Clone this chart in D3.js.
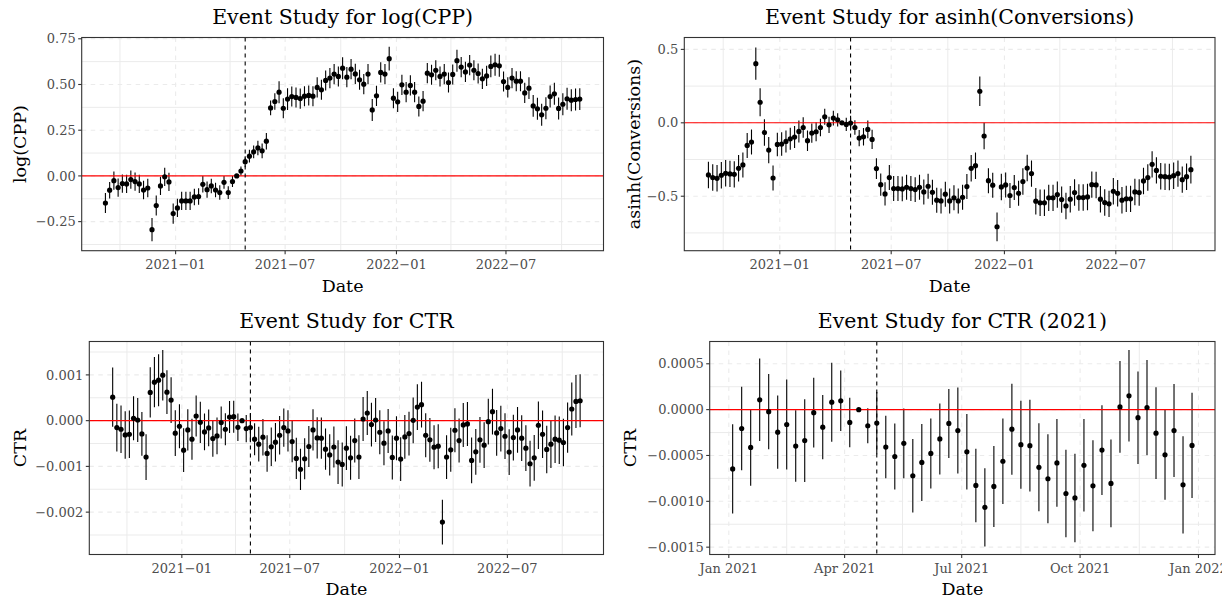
<!DOCTYPE html>
<html><head><meta charset="utf-8">
<script src="https://cdn.jsdelivr.net/npm/d3@7/dist/d3.min.js"></script>
<style>
body{margin:0;background:#fff}
svg{display:block}
text{font-family:"DejaVu Serif",serif}
</style>
</head><body>
<svg id="chart" width="1229" height="600"></svg>
<script>
// ---------------- DATA ----------------
const weeklyFirst = "2020-09-07", weeklyLast = "2022-10-31";
const weekly2021First = "2021-01-04", weekly2021Last = "2021-12-27";
const eventDate = "2021-04-26";

const cppEst = [-0.148,-0.078,-0.026,-0.064,-0.042,-0.044,-0.020,-0.031,-0.044,-0.077,
-0.066,-0.294,-0.162,-0.055,-0.005,-0.033,-0.206,-0.175,-0.137,-0.137,
-0.137,-0.115,-0.113,-0.046,-0.075,-0.055,-0.077,-0.091,-0.035,-0.091,
-0.031,0.000,0.027,0.078,0.108,0.131,0.153,0.137,0.190,0.372,
0.407,0.458,0.370,0.420,0.434,0.429,0.423,0.436,0.440,0.436,
0.484,0.471,0.522,0.535,0.557,0.544,0.589,0.540,0.584,0.558,
0.526,0.502,0.557,0.361,0.438,0.566,0.557,0.641,0.425,0.405,
0.498,0.458,0.495,0.458,0.380,0.409,0.562,0.553,0.578,0.544,
0.557,0.511,0.555,0.630,0.595,0.569,0.606,0.578,0.560,0.531,
0.547,0.599,0.608,0.602,0.516,0.484,0.535,0.518,0.518,0.454,
0.480,0.383,0.367,0.334,0.370,0.434,0.449,0.369,0.392,0.422,
0.414,0.418,0.420];
const cppHalf = [0.055,0.045,0.050,0.050,0.050,0.050,0.050,0.050,0.050,0.050,
0.050,0.064,0.055,0.050,0.050,0.050,0.055,0.050,0.050,0.050,
0.050,0.045,0.045,0.045,0.045,0.040,0.040,0.040,0.035,0.035,
0.030,0.000,0.025,0.030,0.035,0.035,0.040,0.040,0.045,0.040,
0.045,0.060,0.055,0.060,0.055,0.055,0.055,0.055,0.055,0.055,
0.055,0.055,0.055,0.055,0.055,0.055,0.060,0.055,0.055,0.055,
0.055,0.055,0.055,0.060,0.055,0.055,0.055,0.065,0.055,0.055,
0.055,0.055,0.055,0.055,0.055,0.055,0.055,0.055,0.055,0.055,
0.055,0.055,0.055,0.060,0.055,0.055,0.055,0.055,0.055,0.055,
0.055,0.060,0.060,0.060,0.055,0.055,0.055,0.055,0.055,0.055,
0.060,0.060,0.060,0.060,0.060,0.060,0.060,0.060,0.060,0.060,
0.060,0.060,0.060];

const convEst = [-0.355,-0.373,-0.378,-0.357,-0.344,-0.348,-0.351,-0.310,-0.287,-0.154,
-0.131,0.403,0.140,-0.066,-0.186,-0.376,-0.147,-0.145,-0.127,-0.109,
-0.097,-0.059,-0.032,-0.122,-0.070,-0.061,-0.032,0.041,-0.014,0.032,
0.020,0.000,-0.011,-0.002,-0.032,-0.104,-0.095,-0.045,-0.113,-0.312,
-0.421,-0.484,-0.373,-0.448,-0.448,-0.450,-0.439,-0.448,-0.455,-0.439,
-0.471,-0.432,-0.473,-0.527,-0.532,-0.486,-0.532,-0.511,-0.532,-0.507,
-0.434,-0.310,-0.292,0.215,-0.090,-0.394,-0.425,-0.708,-0.437,-0.423,
-0.495,-0.441,-0.480,-0.400,-0.308,-0.346,-0.534,-0.545,-0.545,-0.511,
-0.511,-0.489,-0.523,-0.566,-0.520,-0.475,-0.509,-0.509,-0.505,-0.421,
-0.423,-0.520,-0.543,-0.552,-0.466,-0.480,-0.527,-0.518,-0.518,-0.471,
-0.475,-0.396,-0.373,-0.283,-0.324,-0.364,-0.367,-0.369,-0.360,-0.346,
-0.387,-0.367,-0.319];
const convHalf = [0.090,0.090,0.090,0.090,0.090,0.090,0.090,0.090,0.085,0.085,
0.085,0.110,0.095,0.090,0.090,0.085,0.080,0.080,0.075,0.075,
0.075,0.075,0.070,0.070,0.065,0.065,0.060,0.055,0.055,0.050,
0.045,0.000,0.045,0.050,0.050,0.055,0.060,0.060,0.065,0.070,
0.075,0.080,0.085,0.085,0.085,0.085,0.085,0.085,0.085,0.085,
0.085,0.085,0.085,0.085,0.085,0.085,0.085,0.085,0.085,0.085,
0.085,0.090,0.090,0.100,0.090,0.085,0.085,0.098,0.090,0.085,
0.085,0.085,0.085,0.090,0.090,0.090,0.090,0.090,0.090,0.090,
0.090,0.090,0.090,0.090,0.090,0.090,0.090,0.090,0.090,0.090,
0.090,0.090,0.090,0.090,0.090,0.090,0.090,0.090,0.090,0.090,
0.090,0.090,0.090,0.090,0.090,0.090,0.090,0.090,0.090,0.090,
0.090,0.090,0.095];

const ctrEst = [0.000514,-0.000152,-0.000188,-0.000312,-0.000297,0.000051,0.000014,-0.000290,-0.000797,0.000616,
0.000841,0.000884,0.000993,0.000623,0.000449,-0.000275,-0.000123,-0.000645,-0.000203,-0.000406,
0.000101,-0.000036,-0.000246,-0.000159,-0.000391,-0.000333,-0.000043,-0.000188,0.000080,0.000087,
-0.000145,0.000000,-0.000174,-0.000152,-0.000406,-0.000514,-0.000362,-0.000717,-0.000572,-0.000471,
-0.000319,-0.000152,-0.000225,-0.000457,-0.000826,-0.001065,-0.000833,-0.000565,-0.000203,-0.000377,
-0.000384,-0.000623,-0.000750,-0.000576,-0.000906,-0.000957,-0.000601,-0.000812,-0.000435,-0.000797,
0.000036,0.000167,-0.000087,0.000014,-0.000254,-0.000493,-0.000225,-0.000804,-0.000384,-0.000841,
-0.000355,-0.000283,0.000007,0.000297,0.000348,-0.000319,-0.000420,-0.000580,-0.000558,-0.002217,
-0.000797,-0.000638,-0.000210,-0.000435,-0.000094,-0.000072,-0.000870,-0.000681,-0.000420,-0.000536,
-0.000022,0.000196,-0.000268,-0.000174,-0.000341,-0.000688,-0.000370,-0.000203,-0.000384,-0.000601,
-0.000942,-0.000812,-0.000101,-0.000297,-0.000630,-0.000514,-0.000406,-0.000428,-0.000478,-0.000152,
0.000254,0.000420,0.000435];
const ctrHalf = [0.00065,0.00052,0.00052,0.00052,0.00052,0.00048,0.00048,0.00048,0.00050,0.00055,
0.00055,0.00057,0.00055,0.00048,0.00050,0.00050,0.00048,0.00048,0.00045,0.00045,
0.00045,0.00045,0.00040,0.00040,0.00040,0.00040,0.00035,0.00035,0.00035,0.00035,
0.00030,0.00000,0.00030,0.00032,0.00035,0.00038,0.00040,0.00040,0.00042,0.00042,
0.00042,0.00042,0.00045,0.00045,0.00045,0.00045,0.00045,0.00045,0.00045,0.00045,
0.00045,0.00045,0.00045,0.00045,0.00048,0.00048,0.00048,0.00048,0.00048,0.00048,
0.00048,0.00048,0.00048,0.00048,0.00048,0.00048,0.00048,0.00048,0.00048,0.00048,
0.00048,0.00048,0.00050,0.00050,0.00050,0.00048,0.00048,0.00048,0.00048,0.00049,
0.00048,0.00048,0.00048,0.00048,0.00048,0.00048,0.00050,0.00050,0.00050,0.00050,
0.00050,0.00050,0.00050,0.00050,0.00050,0.00050,0.00050,0.00050,0.00050,0.00050,
0.00050,0.00050,0.00052,0.00052,0.00052,0.00052,0.00052,0.00052,0.00052,0.00055,
0.00058,0.00058,0.00058];

const ctr21Est = [-0.000647,-0.000206,-0.000412,0.000107,-0.000022,-0.000246,-0.000162,-0.000397,-0.000338,-0.000033,
-0.000191,0.000081,0.000096,-0.000140,0.000000,-0.000176,-0.000147,-0.000408,-0.000511,-0.000368,
-0.000721,-0.000576,-0.000478,-0.000320,-0.000151,-0.000228,-0.000460,-0.000827,-0.001066,-0.000838,
-0.000563,-0.000213,-0.000382,-0.000393,-0.000629,-0.000754,-0.000581,-0.000915,-0.000963,-0.000607,
-0.000831,-0.000441,-0.000805,0.000029,0.000151,-0.000088,0.000022,-0.000257,-0.000493,-0.000228,
-0.000820,-0.000390];
const ctr21Half = [0.000487,0.000456,0.000417,0.000450,0.000410,0.000400,0.000490,0.000390,0.000450,0.000380,
0.000350,0.000430,0.000330,0.000270,0.000000,0.000190,0.000340,0.000340,0.000360,0.000380,
0.000400,0.000420,0.000382,0.000388,0.000377,0.000469,0.000412,0.000400,0.000428,0.000441,
0.000465,0.000496,0.000480,0.000500,0.000480,0.000485,0.000478,0.000478,0.000483,0.000504,
0.000496,0.000489,0.000478,0.000500,0.000498,0.000505,0.000520,0.000500,0.000490,0.000507,
0.000530,0.000575];

const xTicksMonthly = ["2021-01-01","2021-07-01","2022-01-01","2022-07-01"];
const xLabelsMonthly = ["2021\u221201","2021\u221207","2022\u221201","2022\u221207"];
const xMinorMonthly = ["2020-10-01","2021-04-01","2021-10-01","2022-04-01","2022-10-01"];
const xTicks2021 = ["2021-01-01","2021-04-01","2021-07-01","2021-10-01","2022-01-01"];
const xLabels2021 = ["Jan 2021","Apr 2021","Jul 2021","Oct 2021","Jan 2022"];
const xMinor2021 = ["2021-02-15","2021-05-16","2021-08-16","2021-11-16"];

const cppTicks = [-0.25,0,0.25,0.5,0.75];
const cppTickLabels = ["\u22120.25","0.00","0.25","0.50","0.75"];
const cppMinor = [-0.375,-0.125,0.125,0.375,0.625];
const convTicks = [-0.5,0,0.5];
const convTickLabels = ["\u22120.5","0.0","0.5"];
const convMinor = [-0.75,-0.25,0.25];
const ctrTicks = [-0.002,-0.001,0,0.001];
const ctrTickLabels = ["\u22120.002","\u22120.001","0.000","0.001"];
const ctrMinor = [-0.0025,-0.0015,-0.0005,0.0005,0.0015];
const ctr21Ticks = [-0.0015,-0.001,-0.0005,0,0.0005];
const ctr21TickLabels = ["\u22120.0015","\u22120.0010","\u22120.0005","0.0000","0.0005"];
const ctr21Minor = [-0.00125,-0.00075,-0.00025,0.00025];

// ---------------- BUILD ----------------
const parse = d3.utcParse("%Y-%m-%d");
const datesWeekly = d3.utcMonday.range(parse(weeklyFirst), d3.utcDay.offset(parse(weeklyLast), 1));
const dates2021 = d3.utcMonday.range(parse(weekly2021First), d3.utcDay.offset(parse(weekly2021Last), 1));

function rows(dates, est, half){ return dates.map((d,i)=>({date:d, est:est[i], half:half[i]})); }

const panels = [
  {title:"Event Study for log(CPP)", ylab:"log(CPP)", data:rows(datesWeekly,cppEst,cppHalf),
   yTicks:cppTicks, yLabels:cppTickLabels, yMinor:cppMinor, yDomain:[-0.409,0.757],
   xTicks:xTicksMonthly, xLabels:xLabelsMonthly, xMinor:xMinorMonthly,
   box:{l:81.7,r:603.5,t:37.5,b:250.7}, ylabX:25.5, titleY:24, tickY:269, xlabY:291.5, cellR:614},
  {title:"Event Study for asinh(Conversions)", ylab:"asinh(Conversions)", data:rows(datesWeekly,convEst,convHalf),
   yTicks:convTicks, yLabels:convTickLabels, yMinor:convMinor, yDomain:[-0.871,0.581],
   xTicks:xTicksMonthly, xLabels:xLabelsMonthly, xMinor:xMinorMonthly,
   box:{l:684.3,r:1215,t:37.5,b:250.7}, ylabX:639.5, titleY:24, tickY:269, xlabY:291.5, cellR:1229},
  {title:"Event Study for CTR", ylab:"CTR", data:rows(datesWeekly,ctrEst,ctrHalf),
   yTicks:ctrTicks, yLabels:ctrTickLabels, yMinor:ctrMinor, yDomain:[-0.002926,0.00173],
   xTicks:xTicksMonthly, xLabels:xLabelsMonthly, xMinor:xMinorMonthly,
   box:{l:89.3,r:603.5,t:341.5,b:554.5}, ylabX:25.5, titleY:328.3, tickY:572.7, xlabY:595, cellR:614},
  {title:"Event Study for CTR (2021)", ylab:"CTR", data:rows(dates2021,ctr21Est,ctr21Half),
   yTicks:ctr21Ticks, yLabels:ctr21TickLabels, yMinor:ctr21Minor, yDomain:[-0.00158,0.000743],
   xTicks:xTicks2021, xLabels:xLabels2021, xMinor:xMinor2021,
   box:{l:709.7,r:1215,t:341.5,b:554.5}, ylabX:636, titleY:328.3, tickY:572.7, xlabY:595, cellR:1222}
];

const svg = d3.select("#chart");
const GRID = "#ebebeb";

panels.forEach((p,pi)=>{
  const b = p.box;
  const ext = d3.extent(p.data, d=>d.date);
  const span = ext[1]-ext[0];
  const x = d3.scaleUtc().domain([new Date(+ext[0]-0.05*span), new Date(+ext[1]+0.05*span)]).range([b.l,b.r]);
  const y = d3.scaleLinear().domain(p.yDomain).range([b.b,b.t]);
  const g = svg.append("g");
  const clipId = "clip"+pi;
  svg.append("clipPath").attr("id",clipId).append("rect")
    .attr("x",b.l).attr("y",b.t).attr("width",b.r-b.l).attr("height",b.b-b.t);
  const cellClip = "cell"+pi;
  svg.append("clipPath").attr("id",cellClip).append("rect")
    .attr("x",0).attr("y",0).attr("width",p.cellR).attr("height",600);
  const inner = g.append("g").attr("clip-path",`url(#${clipId})`);

  // minor grid
  inner.selectAll(".mgy").data(p.yMinor).join("line")
    .attr("x1",b.l).attr("x2",b.r).attr("y1",d=>y(d)).attr("y2",d=>y(d))
    .attr("stroke",GRID).attr("stroke-width",1);
  inner.selectAll(".mgx").data(p.xMinor.map(parse)).join("line")
    .attr("y1",b.t).attr("y2",b.b).attr("x1",d=>x(d)).attr("x2",d=>x(d))
    .attr("stroke",GRID).attr("stroke-width",1);
  // major grid (dashed)
  inner.selectAll(".Mgy").data(p.yTicks).join("line")
    .attr("x1",b.l).attr("x2",b.r).attr("y1",d=>y(d)).attr("y2",d=>y(d))
    .attr("stroke",GRID).attr("stroke-width",1.1).attr("stroke-dasharray","4.5,4.5");
  inner.selectAll(".Mgx").data(p.xTicks.map(parse)).join("line")
    .attr("y1",b.t).attr("y2",b.b).attr("x1",d=>x(d)).attr("x2",d=>x(d))
    .attr("stroke",GRID).attr("stroke-width",1.1).attr("stroke-dasharray","4.5,4.5");

  // error bars
  inner.selectAll(".eb").data(p.data.filter(d=>d.half>0)).join("line")
    .attr("x1",d=>x(d.date)).attr("x2",d=>x(d.date))
    .attr("y1",d=>y(d.est-d.half)).attr("y2",d=>y(d.est+d.half))
    .attr("stroke","#000").attr("stroke-width",1.1);
  // reference lines
  inner.append("line").attr("x1",b.l).attr("x2",b.r).attr("y1",y(0)).attr("y2",y(0))
    .attr("stroke","#ff0000").attr("stroke-width",1.1);
  const ev = parse(eventDate);
  inner.append("line").attr("x1",x(ev)).attr("x2",x(ev)).attr("y1",b.t).attr("y2",b.b)
    .attr("stroke","#000").attr("stroke-width",1.1).attr("stroke-dasharray","4,4");
  // points
  inner.selectAll(".pt").data(p.data).join("circle")
    .attr("cx",d=>x(d.date)).attr("cy",d=>y(d.est)).attr("r",2.6).attr("fill","#000");

  // border
  g.append("rect").attr("x",b.l).attr("y",b.t).attr("width",b.r-b.l).attr("height",b.b-b.t)
    .attr("fill","none").attr("stroke","#333333").attr("stroke-width",1.1);

  // y axis ticks + labels
  p.yTicks.forEach((t,i)=>{
    g.append("line").attr("x1",b.l-3.5).attr("x2",b.l).attr("y1",y(t)).attr("y2",y(t))
      .attr("stroke","#333333").attr("stroke-width",1.1);
    g.append("text").attr("x",b.l-6).attr("y",y(t)).attr("dy","0.36em")
      .attr("text-anchor","end").attr("font-size",13).attr("fill","#4d4d4d").text(p.yLabels[i]);
  });
  // x axis ticks + labels
  const xl = g.append("g").attr("clip-path",`url(#${cellClip})`);
  p.xTicks.forEach((t,i)=>{
    const xv = x(parse(t));
    g.append("line").attr("x1",xv).attr("x2",xv).attr("y1",b.b).attr("y2",b.b+3.5)
      .attr("stroke","#333333").attr("stroke-width",1.1);
    xl.append("text").attr("x",xv).attr("y",p.tickY)
      .attr("text-anchor","middle").attr("font-size",13).attr("fill","#4d4d4d").text(p.xLabels[i]);
  });
  // titles
  g.append("text").attr("x",(b.l+b.r)/2).attr("y",p.titleY).attr("text-anchor","middle")
    .attr("font-size",20.5).attr("fill","#000").text(p.title);
  g.append("text").attr("x",(b.l+b.r)/2).attr("y",p.xlabY).attr("text-anchor","middle")
    .attr("font-size",17.5).attr("fill","#000").text("Date");
  g.append("text").attr("transform",`translate(${p.ylabX},${(b.t+b.b)/2}) rotate(-90)`)
    .attr("text-anchor","middle").attr("font-size",17.5).attr("fill","#000").text(p.ylab);
});
</script>
</body></html>
